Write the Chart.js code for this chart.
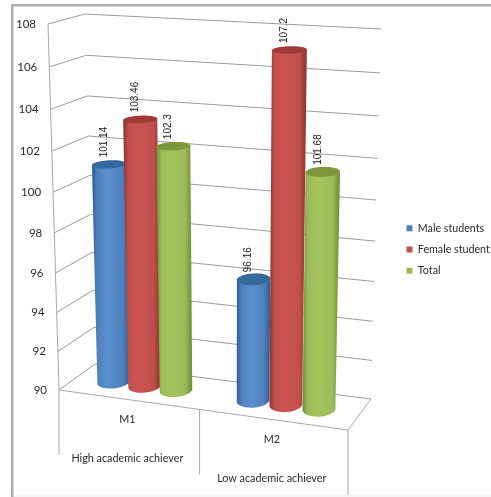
<!DOCTYPE html>
<html>
<head>
<meta charset="utf-8">
<style>
  html, body { margin: 0; padding: 0; background: #fff; }
  canvas { display: block; }
</style>
<script src="https://cdn.jsdelivr.net/npm/chart.js@4/dist/chart.umd.js"></script>
</head>
<body>
<canvas id="chart" width="491" height="497"></canvas>
<script>
const categories = ['M1', 'M2'];
const groups = ['High academic achiever', 'Low academic achiever'];
const yTicks = [90, 92, 94, 96, 98, 100, 102, 104, 106, 108];

const maleStudents = [101.14, 96.16];
const femaleStudents = [103.46, 107.2];
const total = [102.3, 101.68];

const seriesNames = ['Male students', 'Female student', 'Total'];
const baseColors = ['#4f81bd', '#c0504d', '#9bbb59'];
// edge, highlight, top cap for each cylinder
const shades = [
  ['#2f5d92', '#5a8ecf', '#356a9f'],
  ['#8a312e', '#cb5351', '#a23a38'],
  ['#6e8a34', '#a3c45d', '#7c973c'],
];

const labelFont = '"Lato", "Open Sans", sans-serif';
const valueFont = '"Liberation Sans", Arial, sans-serif';

// corners of the 3d box: front plane and back plane, bottom-left first, anticlockwise
const front = [[59, 390], [348, 430], [356, 45], [48, 24]];
const back = [[95, 364], [371, 399], [381, 29], [85, 14]];

function project(u, v, d) {
  const c = front.map((p, i) => [p[0] + (back[i][0] - p[0]) * d, p[1] + (back[i][1] - p[1]) * d]);
  const [x0, y0] = c[0], [x1, y1] = c[1], [x2, y2] = c[2], [x3, y3] = c[3];
  const sx = x0 - x1 + x2 - x3, sy = y0 - y1 + y2 - y3;
  const dx1 = x1 - x2, dx2 = x3 - x2, dy1 = y1 - y2, dy2 = y3 - y2;
  const den = dx1 * dy2 - dx2 * dy1;
  const g = (sx * dy2 - dx2 * sy) / den;
  const h = (dx1 * sy - sx * dy1) / den;
  const w = g * u + h * v + 1;
  return {
    x: ((x1 - x0 + g * x1) * u + (x3 - x0 + h * x3) * v + x0) / w,
    y: ((y1 - y0 + g * y1) * u + (y3 - y0 + h * y3) * v + y0) / w,
  };
}

function line(ctx, a, b) {
  ctx.beginPath();
  ctx.moveTo(a.x, a.y);
  ctx.lineTo(b.x, b.y);
  ctx.stroke();
}

function drawFrame(chart, ctx) {
  const yScale = chart.scales.y;
  const area = chart.chartArea;

  // outer border of the chart object
  ctx.fillStyle = '#ececec';
  ctx.fillRect(11, 495.5, 480, 1);
  ctx.fillStyle = '#aeaeae';
  ctx.fillRect(11, 4, 480, 2.5);
  ctx.fillRect(11, 4, 2.5, 493);

  ctx.lineWidth = 1;
  ctx.strokeStyle = '#9a9a9a';
  ctx.fillStyle = '#2b2b2b';
  ctx.font = '11.5px ' + labelFont;
  ctx.textAlign = 'right';
  ctx.textBaseline = 'middle';
  yTicks.forEach(tick => {
    const v = (area.bottom - yScale.getPixelForValue(tick)) / area.height;
    const p = project(0, v, 0);
    const q = project(0, v, 1);
    line(ctx, p, q);
    line(ctx, q, project(1, v, 1));
    ctx.fillText(String(tick), p.x - 12, p.y);
  });

  // axis post and floor
  ctx.strokeStyle = '#a8a8a8';
  line(ctx, project(0, 0, 0), project(0, 1, 0));
  line(ctx, project(0, 0, 0), project(1, 0, 0));
  line(ctx, project(1, 0, 0), project(1, 0, 1));

  // two-level category axis under the floor
  ctx.textAlign = 'center';
  ctx.font = '10.8px ' + labelFont;
  [0, 0.5, 1].forEach(u => {
    const p = project(u, 0, 0);
    line(ctx, p, { x: p.x, y: p.y + 65 });
  });
  categories.forEach((name, i) => {
    const p = project((i + 0.5) / categories.length, 0, 0);
    ctx.fillText(name, p.x - 1, p.y + 20);
    ctx.fillText(groups[i], p.x - 1, p.y + 59);
  });
}

function drawCylinder(chart, ctx, bar, shade, base) {
  const area = chart.chartArea;
  const uc = (bar.x - area.left) / area.width;
  const r = bar.width / 2 / area.width;
  const vt = (area.bottom - bar.y) / area.height;
  const depth = 0.24;

  const ring = v => {
    const pts = [];
    for (let i = 0; i < 48; i++) {
      const t = i / 48 * Math.PI * 2;
      pts.push(project(uc + r * Math.cos(t), v, 0.5 + depth * Math.sin(t)));
    }
    return pts;
  };
  const top = ring(vt);
  const bottom = ring(0);
  const extreme = (pts, sign) => pts.reduce((best, p, i) => (sign * p.x > sign * pts[best].x ? i : best), 0);

  const iL = extreme(bottom, -1), iR = extreme(bottom, 1);
  const left = Math.min(top[extreme(top, -1)].x, bottom[iL].x);
  const right = Math.max(top[extreme(top, 1)].x, bottom[iR].x);

  const grad = ctx.createLinearGradient(left, 0, right, 0);
  grad.addColorStop(0, shade[0]);
  grad.addColorStop(0.14, base);
  grad.addColorStop(0.42, shade[1]);
  grad.addColorStop(0.8, base);
  grad.addColorStop(1, shade[0]);

  ctx.beginPath();
  const tl = top[extreme(top, -1)], tr = top[extreme(top, 1)];
  ctx.moveTo(tl.x, tl.y);
  ctx.lineTo(tr.x, tr.y);
  for (let i = iR; ; i = (i + 47) % 48) {
    ctx.lineTo(bottom[i].x, bottom[i].y);
    if (i === iL) break;
  }
  ctx.closePath();
  ctx.fillStyle = grad;
  ctx.fill();

  ctx.beginPath();
  top.forEach((p, i) => (i ? ctx.lineTo(p.x, p.y) : ctx.moveTo(p.x, p.y)));
  ctx.closePath();
  ctx.fillStyle = shade[2];
  ctx.fill();

  return project(uc, vt, 0.5);
}

const cylinderPlugin = {
  id: 'cylinders',
  afterLayout(chart) {
    // legend hugs the right edge, its last label runs off the canvas
    chart.legend.left = 396;
    chart.legend.top += 2;
  },
  beforeDatasetsDraw(chart) {
    const ctx = chart.ctx;
    ctx.save();
    drawFrame(chart, ctx);

    // later series sit in front of earlier ones
    const tops = [];
    chart.data.datasets.forEach((ds, s) => {
      chart.getDatasetMeta(s).data.forEach((bar, i) => {
        tops.push({ p: drawCylinder(chart, ctx, bar, shades[s], baseColors[s]), value: ds.data[i] });
      });
    });

    ctx.fillStyle = '#222';
    ctx.font = '10px ' + valueFont;
    ctx.textAlign = 'left';
    ctx.textBaseline = 'middle';
    tops.forEach(({ p, value }) => {
      ctx.save();
      ctx.translate(p.x - 5, p.y - 7);
      ctx.rotate(-Math.PI / 2);
      ctx.fillText(String(value), 0, 0);
      ctx.restore();
    });
    ctx.restore();
    return false;
  },
};

new Chart(document.getElementById('chart'), {
  type: 'bar',
  plugins: [cylinderPlugin],
  data: {
    labels: categories,
    datasets: [maleStudents, femaleStudents, total].map((data, i) => ({
      label: seriesNames[i],
      data: data,
      backgroundColor: baseColors[i],
    })),
  },
  options: {
    responsive: false,
    animation: false,
    layout: { padding: 0 },
    categoryPercentage: 0.68,
    barPercentage: 0.92,
    scales: {
      x: { display: false },
      y: { display: false, min: 90, max: 108 },
    },
    plugins: {
      tooltip: { enabled: false },
      legend: {
        position: 'right',
        labels: {
          boxWidth: 6,
          boxHeight: 6,
          padding: 10.5,
          color: '#2b2b2b',
          font: { family: labelFont, size: 10.7 },
        },
      },
    },
  },
});
</script>
</body>
</html>
